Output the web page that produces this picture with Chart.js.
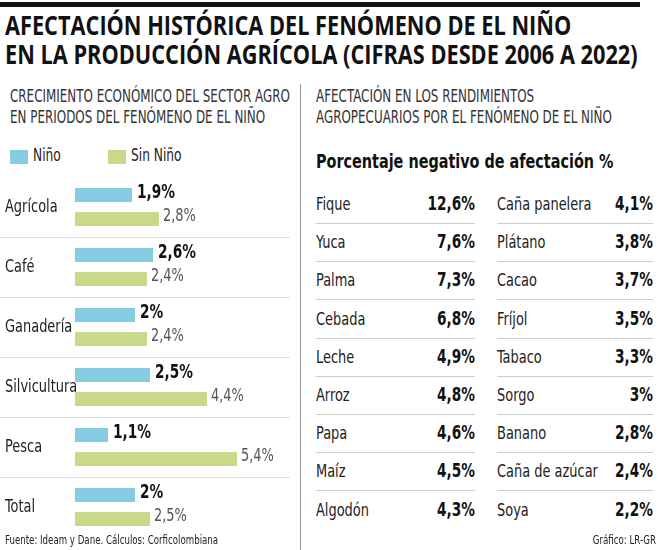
<!DOCTYPE html>
<html><head><meta charset="utf-8">
<script src="https://cdn.jsdelivr.net/npm/chart.js@4"></script>
<style>
body{margin:0;width:660px;height:550px;position:relative;background:#fff;font-family:"DejaVu Sans Condensed","Liberation Sans",sans-serif;color:#222;overflow:hidden}
.a{position:absolute;white-space:nowrap}
.n{transform:scaleX(0.8);transform-origin:left center}
.r{transform:scaleX(0.8);transform-origin:right center;text-align:right}
#topbar{left:0;top:2px;width:640px;height:5px;background:#111}
#title{left:5px;top:10px;font-size:27px;font-weight:bold;line-height:29px;color:#111;font-family:"Open Sans","DejaVu Sans",sans-serif;transform:scaleX(0.805);transform-origin:left}
.sub{font-size:17px;line-height:21px;color:#333;top:86px;transform:scaleX(0.78);transform-origin:left}
#div{left:300px;top:84px;width:1px;height:466px;background:#999}
.sq{width:18px;height:14px;top:150px}
.lg{top:145px;font-size:17px}
.cell{font-size:18px;line-height:37px;height:37px}
.ln{height:1px;background:#ccc}
</style></head><body>
<div class="a" id="topbar"></div>
<div class="a" id="title">AFECTACIÓN HISTÓRICA DEL FENÓMENO DE EL NIÑO<br>EN LA PRODUCCIÓN AGRÍCOLA (CIFRAS DESDE 2006 A 2022)</div>
<div class="a sub" style="left:10px">CRECIMIENTO ECONÓMICO DEL SECTOR AGRO<br>EN PERIODOS DEL FENÓMENO DE EL NIÑO</div>
<div class="a sub" style="left:316px">AFECTACIÓN EN LOS RENDIMIENTOS<br>AGROPECUARIOS POR EL FENÓMENO DE EL NIÑO</div>
<div class="a" id="div"></div>
<div class="a sq" style="left:10px;background:#86cde3"></div><div class="a lg n" style="left:33px">Niño</div>
<div class="a sq" style="left:108px;background:#c8da8a"></div><div class="a lg n" style="left:131px">Sin Niño</div>
<div class="a" style="left:0;top:177px;width:300px;height:360px"><canvas id="c"></canvas></div>
<div class="a n" style="left:316px;top:149px;font-size:20px;font-weight:bold;color:#111">Porcentaje negativo de afectación %</div>
<div id="tbl"></div>
<div class="a n" style="left:5px;top:533px;font-size:12px">Fuente: Ideam y Dane. Cálculos: Corficolombiana</div>
<div class="a r" style="right:4px;top:533px;font-size:12px">Gráfico: LR-GR</div>
<script>
const categories=["Agrícola","Café","Ganadería","Silvicultura","Pesca","Total"];
const nino=[1.9,2.6,2,2.5,1.1,2];
const sinNino=[2.8,2.4,2.4,4.4,5.4,2.5];
const ninoLabels=["1,9%","2,6%","2%","2,5%","1,1%","2%"];
const sinLabels=["2,8%","2,4%","2,4%","4,4%","5,4%","2,5%"];
const cropsA=["Fique","Yuca","Palma","Cebada","Leche","Arroz","Papa","Maíz","Algodón"];
const valsA=["12,6%","7,6%","7,3%","6,8%","4,9%","4,8%","4,6%","4,5%","4,3%"];
const cropsB=["Caña panelera","Plátano","Cacao","Fríjol","Tabaco","Sorgo","Banano","Caña de azúcar","Soya"];
const valsB=["4,1%","3,8%","3,7%","3,5%","3,3%","3%","2,8%","2,4%","2,2%"];
function table(names,vals,x0,x1){
  let h='';
  names.forEach((n,i)=>{const t=185+i*38.2;
    h+='<div class="a cell n" style="left:'+x0+'px;top:'+t+'px">'+n+'</div>';
    h+='<div class="a cell r" style="left:'+(x1-100)+'px;width:100px;top:'+t+'px;font-weight:bold;font-size:19px;color:#111">'+vals[i]+'</div>';
    if(i<names.length-1)h+='<div class="a ln" style="left:'+x0+'px;width:'+(x1-x0)+'px;top:'+(t+38)+'px"></div>';});
  document.getElementById('tbl').innerHTML+=h;
}
table(cropsA,valsA,316,475);table(cropsB,valsB,497,653);
const F='"DejaVu Sans Condensed",sans-serif';
function txt(c,s,x,y){c.save();c.translate(x,y);c.scale(0.8,1);c.fillText(s,0,0);c.restore();}
const deco={id:'deco',afterDatasetsDraw(ch){
  const c=ch.ctx,y=ch.scales.y;c.save();
  c.strokeStyle='#ddd';c.lineWidth=1;
  for(let i=0;i<categories.length-1;i++){const p=(y.getPixelForValue(i)+y.getPixelForValue(i+1))/2;
    c.beginPath();c.moveTo(0,p+0.5);c.lineTo(290,p+0.5);c.stroke();}
  c.textBaseline='middle';c.fillStyle='#222';c.font='18px '+F;
  categories.forEach((n,i)=>txt(c,n,5,y.getPixelForValue(i)));
  const m0=ch.getDatasetMeta(0),m1=ch.getDatasetMeta(1);
  c.font='bold 19px '+F;c.fillStyle='#111';
  m0.data.forEach((b,i)=>txt(c,ninoLabels[i],b.x+5,b.y-2));
  c.font='18px '+F;c.fillStyle='#555';
  m1.data.forEach((b,i)=>txt(c,sinLabels[i],b.x+4,b.y-3));
  c.restore();}};
new Chart(document.getElementById('c'),{type:'bar',
 data:{labels:categories,datasets:[
  {label:'Niño',data:nino,backgroundColor:'#86cde3',categoryPercentage:0.8,barPercentage:0.583},
  {label:'Sin Niño',data:sinNino,backgroundColor:'#c8da8a',categoryPercentage:0.8,barPercentage:0.583}]},
 options:{indexAxis:'y',responsive:true,maintainAspectRatio:false,animation:false,
  layout:{padding:{left:75,right:0,top:0,bottom:0}},
  plugins:{legend:{display:false},tooltip:{enabled:false}},
  scales:{x:{display:false,min:0,max:7.5},y:{display:false}}},
 plugins:[deco]});
</script></body></html>
